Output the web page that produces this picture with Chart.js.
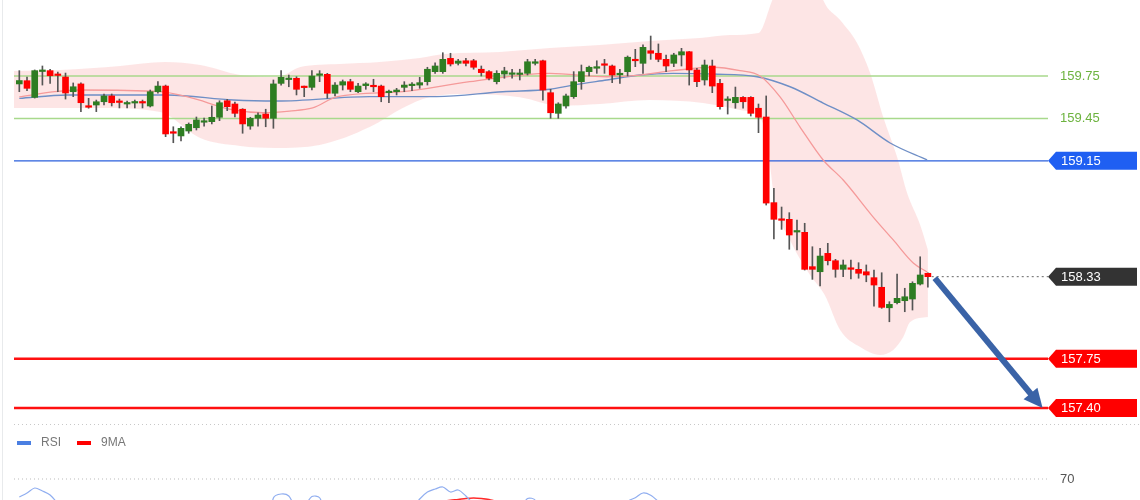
<!DOCTYPE html>
<html><head><meta charset="utf-8">
<script src="https://cdn.jsdelivr.net/npm/chart.js@4.4.1/dist/chart.umd.min.js"></script>
<style>
html,body{margin:0;padding:0;background:#fff;width:1140px;height:500px;overflow:hidden}
#wrap{position:relative;width:1140px;height:500px}
#c1{position:absolute;left:0;top:0}
#c2{position:absolute;left:0;top:425px}
#edge{position:absolute;left:2px;top:0;width:1px;height:500px;background:#e8eaec}
</style></head><body>
<div id="wrap"><div id="edge"></div><canvas id="c1" width="1140" height="425"></canvas><canvas id="c2" width="1140" height="75"></canvas></div>
<script>
// ---------- DATA ----------
const opens = [
159.694,159.717,159.599,159.782,159.788,159.757,159.743,159.639,159.694,159.540,
159.545,159.568,159.609,159.570,159.552,159.559,159.568,159.538,159.639,159.679,
159.356,159.326,159.361,159.384,159.423,159.427,159.458,159.575,159.552,159.515,
159.396,159.451,159.481,159.451,159.698,159.725,159.734,159.672,159.670,159.755,
159.762,159.628,159.686,159.710,159.639,159.682,159.682,159.679,159.632,159.639,
159.670,159.682,159.686,159.710,159.781,159.781,159.875,159.840,159.858,159.858,
159.798,159.781,159.710,159.764,159.762,159.761,159.769,159.840,159.858,159.632,
159.486,159.538,159.604,159.710,159.781,159.805,159.835,159.821,159.759,159.781,
159.868,159.840,159.929,159.911,159.868,159.840,159.899,159.922,159.793,159.722,
159.821,159.698,159.577,159.561,159.599,159.599,159.522,159.460,158.854,158.735,
158.736,158.646,158.644,158.401,158.365,158.495,158.443,158.382,158.393,158.382,
158.365,158.323,158.255,158.110,158.146,158.160,158.172,158.278,158.354];
const highs = [
159.788,159.743,159.793,159.821,159.798,159.778,159.771,159.701,159.701,159.592,
159.580,159.623,159.623,159.587,159.573,159.580,159.580,159.651,159.710,159.686,
159.391,159.391,159.418,159.460,159.453,159.538,159.575,159.585,159.566,159.519,
159.458,159.490,159.515,159.722,159.788,159.757,159.745,159.679,159.788,159.788,
159.769,159.703,159.722,159.727,159.698,159.703,159.727,159.686,159.651,159.663,
159.710,159.703,159.741,159.812,159.844,159.915,159.911,159.868,159.875,159.868,
159.821,159.788,159.788,159.812,159.798,159.798,159.868,159.868,159.863,159.656,
159.561,159.623,159.781,159.828,159.821,159.858,159.868,159.828,159.798,159.892,
159.939,159.970,160.033,159.977,159.899,159.911,159.946,159.924,159.805,159.863,
159.863,159.727,159.604,159.672,159.604,159.604,159.552,159.609,158.955,158.823,
158.783,158.731,158.708,158.542,158.531,158.566,158.453,158.448,158.448,158.429,
158.413,158.377,158.358,158.153,158.349,158.248,158.294,158.471,158.358];
const lows = [
159.639,159.646,159.594,159.686,159.698,159.639,159.587,159.604,159.498,159.522,
159.498,159.545,159.538,159.524,159.524,159.524,159.524,159.531,159.628,159.321,
159.278,159.290,159.345,159.368,159.396,159.411,159.434,159.505,159.460,159.345,
159.373,159.396,159.391,159.380,159.686,159.674,159.616,159.604,159.651,159.710,
159.592,159.609,159.651,159.639,159.632,159.656,159.639,159.568,159.561,159.616,
159.639,159.646,159.663,159.686,159.769,159.769,159.821,159.828,159.821,159.798,
159.750,159.722,159.694,159.734,159.734,159.722,159.757,159.828,159.580,159.451,
159.451,159.522,159.592,159.656,159.750,159.769,159.769,159.703,159.698,159.750,
159.816,159.769,159.868,159.851,159.781,159.816,159.821,159.686,159.674,159.686,
159.632,159.515,159.481,159.522,159.522,159.467,159.349,158.837,158.597,158.665,
158.524,158.519,158.377,158.311,158.264,158.413,158.326,158.330,158.314,158.319,
158.294,158.122,158.106,158.011,158.137,158.082,158.094,158.271,158.255];
const closes = [
159.718,159.663,159.788,159.793,159.752,159.754,159.630,159.674,159.561,159.529,
159.568,159.609,159.561,159.563,159.559,159.568,159.559,159.639,159.679,159.340,
159.345,159.380,159.408,159.439,159.432,159.458,159.561,159.533,159.486,159.411,
159.451,159.474,159.451,159.694,159.741,159.729,159.656,159.668,159.750,159.759,
159.628,159.686,159.710,159.656,159.679,159.694,159.674,159.604,159.639,159.651,
159.686,159.691,159.703,159.798,159.821,159.868,159.835,159.856,159.840,159.812,
159.774,159.734,159.769,159.786,159.769,159.766,159.851,159.851,159.651,159.490,
159.552,159.609,159.710,159.781,159.812,159.816,159.826,159.757,159.769,159.883,
159.858,159.953,159.911,159.868,159.821,159.899,159.922,159.793,159.710,159.828,
159.679,159.533,159.584,159.599,159.568,159.486,159.458,158.851,158.736,158.729,
158.625,158.653,158.382,158.382,158.476,158.443,158.382,158.413,158.382,158.354,
158.342,158.271,158.113,158.134,158.177,158.188,158.283,158.342,158.330];

// Bollinger band edges and moving averages: [candle index, price]
const bandUpper = [[-0.69,159.786],[5.3,159.793],[13.1,159.821],[18.9,159.849],[23.5,159.828],[28.7,159.757],[33.5,159.743],[36.5,159.814],[41.6,159.835],[46.8,159.849],[52,159.878],[55.3,159.906],[62.4,159.920],[68.9,159.948],[75.4,159.970],[81.9,159.998],[88.4,160.019],[92.3,160.040],[96,160.054],[97.8,160.288],[100,160.57],[102,160.64],[103.5,160.46],[104.4,160.288],[106.6,160.146],[108.8,159.984],[110.5,159.771],[112.2,159.460],[114,159.177],[115.3,158.922],[117,158.696],[118,158.519]];
const bandLower = [[-0.69,159.524],[5.3,159.524],[10.5,159.524],[18.3,159.495],[23.5,159.311],[28.7,159.255],[33.2,159.241],[39,159.262],[45.5,159.389],[49.8,159.524],[53.3,159.602],[58.5,159.623],[65,159.600],[70.2,159.540],[75.4,159.552],[81.9,159.580],[88.8,159.559],[93.6,159.510],[96.2,159.453],[97.1,159.297],[98.1,158.873],[100.1,158.590],[102.7,158.342],[104.6,158.200],[106.6,157.953],[109.2,157.832],[111.8,157.776],[113.5,157.811],[114.8,157.903],[115.7,158.009],[118,158.045]];
const maFast = [[0,159.602],[4.6,159.639],[7.9,159.651],[18.3,159.639],[22,159.600],[27.8,159.510],[31.6,159.490],[35.1,159.502],[38.1,159.524],[41.3,159.604],[49.8,159.639],[58.5,159.710],[68.9,159.769],[76.3,159.745],[80.6,159.757],[84.9,159.788],[90.1,159.812],[93.6,159.788],[96.2,159.750],[98.8,159.602],[101.4,159.389],[104.4,159.156],[107,159.014],[110.9,158.752],[113.5,158.590],[116.1,158.427],[117.9,158.363]];
const maSlow = [[0,159.592],[6.2,159.616],[19.2,159.616],[27.8,159.580],[33.5,159.573],[45.5,159.604],[54.2,159.604],[62.8,159.639],[68.9,159.656],[71.9,159.686],[76.3,159.722],[80.6,159.757],[84.9,159.769],[90.1,159.764],[95.8,159.745],[100.1,159.674],[104.4,159.559],[108.8,159.439],[113.1,159.276],[117.9,159.156]];

const resistanceLevels = [159.75, 159.45];
const pivotLevel = 159.15;
const lastPrice = 158.33;
const supportLevels = [157.75, 157.40];
const arrowFrom = [118.9, 158.32];
const arrowTo = [132.9, 157.40];

const rsi = [62.8,64.4,66.4,65.2,63.6,60,55,57,48,45,47,52,49,49,48,50,49,56,58,
38,37,40,42,45,45,47,53,51,48,43,46,48,47,
62.4,64,63.2,58,59,63,62.5,55,
58,59,56,58,59,58,55,56,57,58,58,
62,64.8,66,66.8,64.8,65.6,63.2,60,
58,55,57,58,58,58,62.2,61.5,
50,44,47,51,56,59,60,60,59,55,56,61,
62.5,64.4,63.5,61,
58,60,61,54,51,55,50,44,45,46,45,42,40,
22,20,20,18,19,16,16,22,21,19,21,20,19,19,17,15,17,22,23,28,33,32];
const rsiMA = [57,57.5,58,58.5,59,59,58.5,58,57,55,54,53,52,51,50,50,50,51,51,
50,48,46,45,44,44,43,44,45,46,46,46,47,47,
49,51,53,55,56,57,58,58.5,59,59,59,59,58.5,58,58,58,58,57.5,57.5,
58,59,60,61,61.5,61.8,62.2,62.4,62.2,61.8,61,60.5,60,59.5,59,59,
58,57,55.5,54,53,53,53.5,54,55,56,57,57.5,58,59,60,60.5,
60.5,60,60,59.5,58.5,57.5,56.5,55,53.5,52,50.5,48.5,46.5,
43,40,37,34,31,28,25,22,20,19.5,19,19,19,19,18.5,18,18,18.5,19.5,21,22.5,24];
const rsiLevel = 70;

// ---------- CHART ----------
const X_MIN = -0.69, X_MAX = 133.6;
const FONT = '"Liberation Sans", Arial, sans-serif';
const GREEN = '#2e7d22', RED = '#ff0000';
const idx = opens.map((_, i) => i);
const pairs = a => a.map(p => ({x: p[0], y: p[1]}));
const hline = (v, x0 = X_MIN, x1 = X_MAX) => [{x: x0, y: v}, {x: x1, y: v}];

const lineBase = {type: 'line', pointRadius: 0, pointHoverRadius: 0, fill: false};

const overlay = {
  id: 'overlay',
  afterDatasetsDraw(chart) {
    const {ctx, scales: {x, y}} = chart;
    ctx.save();
    // arrow
    const x0 = x.getPixelForValue(arrowFrom[0]), y0 = y.getPixelForValue(arrowFrom[1]);
    const x1 = x.getPixelForValue(arrowTo[0]), y1 = y.getPixelForValue(arrowTo[1]);
    const a = Math.atan2(y1 - y0, x1 - x0);
    const hl = 19, hw = 9;
    const bx = x1 - hl * Math.cos(a), by = y1 - hl * Math.sin(a);
    ctx.strokeStyle = '#3a63a7'; ctx.fillStyle = '#3a63a7';
    ctx.lineWidth = 6; ctx.lineCap = 'butt';
    ctx.beginPath(); ctx.moveTo(x0, y0); ctx.lineTo(bx + 2 * Math.cos(a), by + 2 * Math.sin(a)); ctx.stroke();
    ctx.beginPath(); ctx.moveTo(x1, y1);
    ctx.lineTo(bx + hw * Math.sin(a), by - hw * Math.cos(a));
    ctx.lineTo(bx - hw * Math.sin(a), by + hw * Math.cos(a));
    ctx.closePath(); ctx.fill();
    // labels
    ctx.font = '13px ' + FONT;
    ctx.textBaseline = 'middle';
    const tipX = x.getPixelForValue(X_MAX);
    resistanceLevels.forEach(v => {
      ctx.fillStyle = '#6db33f';
      ctx.fillText(v.toFixed(2), tipX + 12, y.getPixelForValue(v));
    });
    const tag = (v, bg) => {
      const cy = y.getPixelForValue(v);
      ctx.fillStyle = bg;
      ctx.beginPath();
      ctx.moveTo(tipX, cy);
      ctx.lineTo(tipX + 8, cy - 9);
      ctx.lineTo(1137, cy - 9);
      ctx.lineTo(1137, cy + 9);
      ctx.lineTo(tipX + 8, cy + 9);
      ctx.closePath(); ctx.fill();
      ctx.fillStyle = '#ffffff';
      ctx.fillText(v.toFixed(2), tipX + 13, cy + 0.5);
    };
    tag(pivotLevel, '#1f5ff2');
    tag(lastPrice, '#333333');
    supportLevels.forEach(v => tag(v, '#ff0000'));
    ctx.restore();
  },
  afterDraw(chart) {
    const {ctx, chartArea} = chart;
    ctx.save();
    ctx.strokeStyle = '#c8c8c8'; ctx.lineWidth = 1; ctx.setLineDash([1, 3]);
    ctx.beginPath(); ctx.moveTo(chartArea.left, chartArea.bottom + 0.5); ctx.lineTo(1140, chartArea.bottom + 0.5); ctx.stroke();
    ctx.restore();
  }
};

new Chart(document.getElementById('c1'), {
  type: 'bar',
  data: {
    datasets: [
      {...lineBase, data: pairs(bandUpper), borderWidth: 0, borderColor: 'rgba(0,0,0,0)', cubicInterpolationMode: 'monotone', order: 20},
      {...lineBase, data: pairs(bandLower), borderWidth: 0, borderColor: 'rgba(0,0,0,0)', cubicInterpolationMode: 'monotone', fill: '-1', backgroundColor: 'rgba(250,170,170,0.30)', order: 19},
      {...lineBase, data: hline(resistanceLevels[0]), borderColor: '#a8d98c', borderWidth: 1.5, order: 15},
      {...lineBase, data: hline(resistanceLevels[1]), borderColor: '#a8d98c', borderWidth: 1.5, order: 15},
      {...lineBase, data: hline(pivotLevel), borderColor: '#2a5fdc', borderWidth: 1.3, order: 15},
      {...lineBase, data: hline(supportLevels[0]), borderColor: '#ff1010', borderWidth: 2.5, order: 15},
      {...lineBase, data: hline(supportLevels[1]), borderColor: '#ff1010', borderWidth: 2.5, order: 15},
      {...lineBase, data: hline(lastPrice, 118.5, X_MAX), borderColor: '#666', borderWidth: 1, borderDash: [2, 3], order: 15},
      {...lineBase, data: pairs(maSlow), borderColor: '#6f8fc6', borderWidth: 1.4, cubicInterpolationMode: 'monotone', order: 11},
      {...lineBase, data: pairs(maFast), borderColor: '#f59a9a', borderWidth: 1.3, cubicInterpolationMode: 'monotone', order: 10},
      {type: 'bar', data: idx.map(i => ({x: i, y: [lows[i], highs[i]]})), backgroundColor: '#555555', barThickness: 1, grouped: false, order: 5},
      {type: 'bar', data: idx.map(i => ({x: i, y: [opens[i], closes[i]]})),
        backgroundColor: idx.map(i => closes[i] >= opens[i] ? GREEN : RED), barThickness: 6, minBarLength: 1.5, grouped: false, order: 4}
    ]
  },
  options: {
    responsive: false, animation: false, events: [],
    layout: {padding: {left: 14, right: 92, top: 0, bottom: 1}},
    plugins: {legend: {display: false}, tooltip: {enabled: false}},
    scales: {
      x: {type: 'linear', min: X_MIN, max: X_MAX, offset: false, display: false},
      y: {type: 'linear', min: 157.2875, max: 160.288, display: false}
    }
  },
  plugins: [overlay]
});

const rsiOverlay = {
  id: 'rsiOverlay',
  afterDraw(chart) {
    const {ctx, scales: {x, y}} = chart;
    ctx.save();
    ctx.font = '12px ' + FONT;
    ctx.textBaseline = 'middle';
    ctx.fillStyle = '#4a7fe2'; ctx.fillRect(17, 16, 14, 4);
    ctx.fillStyle = '#777'; ctx.fillText('RSI', 41, 18);
    ctx.fillStyle = '#ff0000'; ctx.fillRect(77, 16, 14, 4);
    ctx.fillStyle = '#777'; ctx.fillText('9MA', 101, 18);
    ctx.font = '13px ' + FONT;
    ctx.fillStyle = '#555';
    ctx.fillText(String(rsiLevel), x.getPixelForValue(X_MAX) + 12, y.getPixelForValue(rsiLevel));
    ctx.restore();
  }
};

new Chart(document.getElementById('c2'), {
  type: 'line',
  data: {
    datasets: [
      {...lineBase, data: hline(rsiLevel), borderColor: '#bbbbbb', borderWidth: 1, borderDash: [1, 3], order: 5},
      {...lineBase, data: idx.map(i => ({x: i, y: rsiMA[i]})), borderColor: '#ff2a2a', borderWidth: 1.5, tension: 0.3, order: 2},
      {...lineBase, data: idx.map(i => ({x: i, y: rsi[i]})), borderColor: '#90aef0', borderWidth: 1.2, tension: 0.3, order: 1}
    ]
  },
  options: {
    responsive: false, animation: false, events: [],
    layout: {padding: {left: 14, right: 92, top: 0, bottom: 0}},
    plugins: {legend: {display: false}, tooltip: {enabled: false}},
    scales: {
      x: {type: 'linear', min: X_MIN, max: X_MAX, offset: false, display: false},
      y: {type: 'linear', min: 61.6, max: 91.6, display: false}
    }
  },
  plugins: [rsiOverlay]
});
</script>
</body></html>
